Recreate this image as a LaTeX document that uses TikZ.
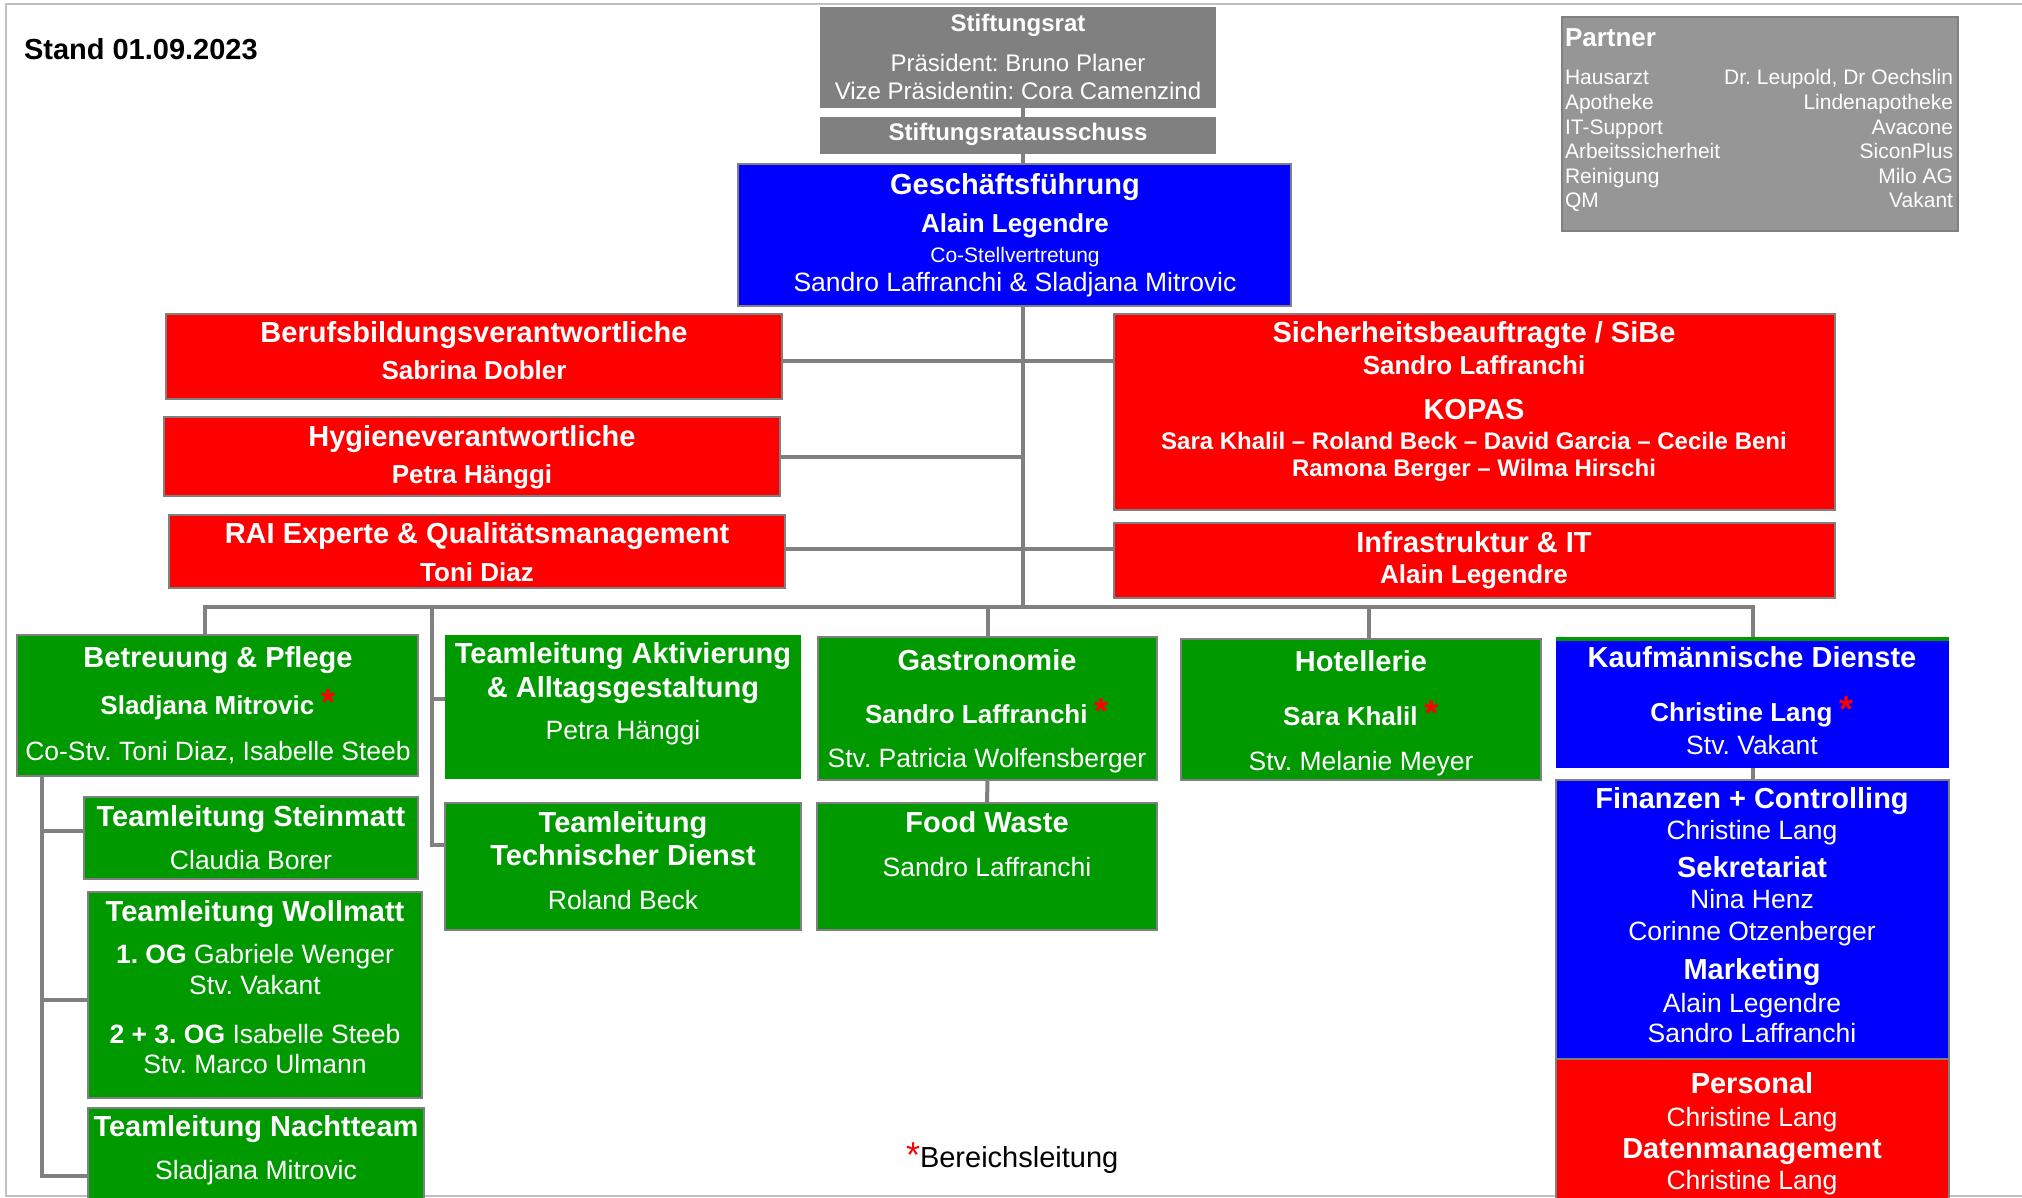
\documentclass[tikz,border=0pt]{standalone}
\usepackage{fontspec}
\setmainfont{Liberation Sans}
\usetikzlibrary{calc}
\frenchspacing
\definecolor{bgray}{RGB}{128,128,128}
\definecolor{pgray}{RGB}{150,150,150}
\definecolor{fgray}{RGB}{192,192,192}
\definecolor{ored}{RGB}{255,0,0}
\definecolor{oblue}{RGB}{0,0,255}
\definecolor{ogreen}{RGB}{0,153,0}
\newcommand\FTitle{\fontsize{29}{31}\selectfont\bfseries}
\newcommand\FName{\fontsize{26}{28}\selectfont\bfseries}
\newcommand\FReg{\fontsize{26.5}{28}\selectfont}
\newcommand\FSb{\fontsize{24}{26}\selectfont\bfseries}
\newcommand\FSr{\fontsize{24}{26}\selectfont}
\newcommand\FCo{\fontsize{21}{23}\selectfont}
\newcommand\FGfn{\fontsize{26.5}{28}\selectfont}
\newcommand\FStar{{\fontsize{36}{36}\selectfont\color{ored}*}}
\tikzset{
  box/.style={draw=bgray, line width=2.5pt, inner sep=0pt, outer sep=0pt},
  conn/.style={draw=bgray, line width=4pt, line join=miter},
  tx/.style={anchor=base, inner sep=0pt, outer sep=0pt, text=white, font=\frenchspacing},
}
\begin{document}
\begin{tikzpicture}[x=1pt,y=-1pt]
\useasboundingbox (0,0) rectangle (2022,1198);
\clip (0,0) rectangle (2022,1198);
\fill[white] (0,0) rectangle (2022,1198);
\draw[fgray, line width=2pt] (2022,4) -- (6,4) -- (6,1196) -- (2022,1196);

% ---------- boxes ----------
\node[box, draw=none, fill=bgray, minimum width=396pt, minimum height=101pt] (stift) at (1018,57.5) {};
\node[box, draw=none, fill=bgray, minimum width=396pt, minimum height=37pt] (aus) at (1018,135.5) {};
\node[box, fill=oblue, minimum width=553pt, minimum height=142pt] (gf) at (1014.5,235) {};
\node[box, fill=pgray, minimum width=396pt, minimum height=214pt] (partner) at (1760,124) {};
\node[box, fill=ored, minimum width=616pt, minimum height=85pt] (berufs) at (474,356.5) {};
\node[box, fill=ored, minimum width=616pt, minimum height=79pt] (hyg) at (472,456.5) {};
\node[box, fill=ored, minimum width=616pt, minimum height=73pt] (rai) at (477,551.5) {};
\node[box, fill=ored, minimum width=721pt, minimum height=196pt] (sich) at (1474.5,412) {};
\node[box, fill=ored, minimum width=721pt, minimum height=75pt] (infra) at (1474.5,560.5) {};
\node[box, fill=ogreen, minimum width=401pt, minimum height=141pt] (betr) at (217.5,705.5) {};
\node[box, fill=ogreen, minimum width=334pt, minimum height=82pt] (stein) at (251,838) {};
\node[box, fill=ogreen, minimum width=334pt, minimum height=206pt] (woll) at (255,995) {};
\node[box, fill=ogreen, minimum width=336pt, minimum height=107pt] (nacht) at (256,1161.5) {};
\node[box, draw=none, fill=ogreen, minimum width=356pt, minimum height=144pt] (akt) at (623,707) {};
\node[box, fill=ogreen, minimum width=356pt, minimum height=127pt] (tech) at (623,866.5) {};
\node[box, fill=ogreen, minimum width=339pt, minimum height=143pt] (gastro) at (987.5,708.5) {};
\node[box, fill=ogreen, minimum width=340pt, minimum height=127pt] (food) at (987,866.5) {};
\node[box, fill=ogreen, minimum width=360pt, minimum height=141pt] (hotel) at (1361,709.5) {};
\node[box, draw=none, fill=oblue, minimum width=393pt, minimum height=131pt] (kauf) at (1752.5,702.5) {};
\draw[ogreen, line width=3.5pt] ([yshift=-1.75pt]kauf.north west) -- ([yshift=-1.75pt]kauf.north east);
\node[box, fill=oblue, minimum width=393pt, minimum height=279pt] (fin) at (1752.5,919.5) {};
\node[box, fill=ored, minimum width=393pt, minimum height=156pt] (pers) at (1752.5,1137) {};

% ---------- connectors ----------
\coordinate (mx) at (1023,607);
\coordinate (y1) at (0,361);
\coordinate (y2) at (0,457);
\coordinate (y3) at (0,549);
\coordinate (bL) at (205,607);
\coordinate (bA) at (432,607);
\coordinate (yA) at (0,699);
\coordinate (yT) at (0,845);
\coordinate (bH) at (1369,607);
\coordinate (bB) at (42,776);
\coordinate (yS) at (0,831);
\coordinate (yW) at (0,1000);
\coordinate (yN) at (0,1176);

\draw[conn] (stift.south -| mx) -- (aus.north -| mx);
\draw[conn] (aus.south -| mx) -- (gf.north -| mx);
\draw[conn] (gf.south -| mx) -- (mx);
\draw[conn] (berufs.east |- y1) -- (sich.west |- y1);
\draw[conn] (hyg.east |- y2) -- (mx |- y2);
\draw[conn] (rai.east |- y3) -- (infra.west |- y3);
\draw[conn] (betr.north -| bL) -- (bL) -- (kauf.north |- bL) -- (kauf.north);
\draw[conn] (bA) -- (bA |- yT) -- (tech.west |- yT);
\draw[conn] (bA |- yA) -- (akt.west |- yA);
\draw[conn] (gastro.north |- bL) -- (gastro.north);
\draw[conn] (bH) -- (bH |- hotel.north);
\draw[conn] (gastro.south) -- (food.north);
\draw[conn] (kauf.south) -- (fin.north);
\draw[conn] (betr.south -| bB) -- (bB |- yN) -- (nacht.west |- yN);
\draw[conn] (bB |- yS) -- (stein.west |- yS);
\draw[conn] (bB |- yW) -- (woll.west |- yW);

% ---------- texts ----------
\node[tx, anchor=base west, text=black] (stand) at (24,60) {\FTitle Stand 01.09.2023};

\node[tx] (t01) at (1018,32) {\FSb Stiftungsrat};
\node[tx] (t02) at (1018,72) {\FSr Präsident: Bruno Planer};
\node[tx] (t03) at (1018,100) {\FSr Vize Präsidentin: Cora Camenzind};
\node[tx] (t04) at (1018,141) {\FSb Stiftungsratausschuss};

\node[tx] (t05) at (1015,195) {\FTitle Geschäftsführung};
\node[tx] (t06) at (1015,233) {\FName Alain Legendre};
\node[tx] (t07) at (1015,263) {\FCo Co-Stellvertretung};
\node[tx] (t08) at (1015,292) {\FGfn Sandro Laffranchi \& Sladjana Mitrovic};

\node[tx, anchor=base west] (p0) at (1565,47) {\FName Partner};
\node[tx, anchor=base west] (p1l) at (1565,85) {\FCo Hausarzt};
\node[tx, anchor=base east] (p1r) at (1953,85) {\FCo Dr. Leupold, Dr Oechslin};
\node[tx, anchor=base west] (p2l) at (1565,109.6) {\FCo Apotheke};
\node[tx, anchor=base east] (p2r) at (1953,109.6) {\FCo Lindenapotheke};
\node[tx, anchor=base west] (p3l) at (1565,134.2) {\FCo IT-Support};
\node[tx, anchor=base east] (p3r) at (1953,134.2) {\FCo Avacone};
\node[tx, anchor=base west] (p4l) at (1565,158.8) {\FCo Arbeitssicherheit};
\node[tx, anchor=base east] (p4r) at (1953,158.8) {\FCo SiconPlus};
\node[tx, anchor=base west] (p5l) at (1565,183.4) {\FCo Reinigung};
\node[tx, anchor=base east] (p5r) at (1953,183.4) {\FCo Milo AG};
\node[tx, anchor=base west] (p6l) at (1565,208) {\FCo QM};
\node[tx, anchor=base east] (p6r) at (1953,208) {\FCo Vakant};

\node[tx] (t10) at (474,343) {\FTitle Berufsbildungsverantwortliche};
\node[tx] (t11) at (474,380) {\FName Sabrina Dobler};
\node[tx] (t12) at (472,446) {\FTitle Hygieneverantwortliche};
\node[tx] (t13) at (472,483) {\FName Petra Hänggi};
\node[tx] (t14) at (477,543) {\FTitle RAI Experte \& Qualitätsmanagement};
\node[tx] (t15) at (477,581) {\FName Toni Diaz};

\node[tx] (t20) at (1474,343) {\FTitle Sicherheitsbeauftragte / SiBe};
\node[tx] (t21) at (1474,374) {\FName Sandro Laffranchi};
\node[tx] (t22) at (1474,419) {\FTitle KOPAS};
\node[tx] (t23) at (1474,449) {\FSb Sara Khalil – Roland Beck – David Garcia – Cecile Beni};
\node[tx] (t24) at (1474,476) {\FSb Ramona Berger – Wilma Hirschi};
\node[tx] (t25) at (1474,552) {\FTitle Infrastruktur \& IT};
\node[tx] (t26) at (1474,583) {\FName Alain Legendre};

\node[tx] (t30) at (218,667) {\FTitle Betreuung \& Pflege};
\node[tx] (t31) at (218,714) {\FName Sladjana Mitrovic \FStar};
\node[tx] (t32) at (218,760) {\FReg Co-Stv. Toni Diaz, Isabelle Steeb};
\node[tx] (t33) at (251,826) {\FTitle Teamleitung Steinmatt};
\node[tx] (t34) at (251,869) {\FReg Claudia Borer};
\node[tx] (t35) at (255,921) {\FTitle Teamleitung Wollmatt};
\node[tx] (t36) at (255,963) {\FReg \textbf{1. OG} Gabriele Wenger};
\node[tx] (t37) at (255,994) {\FReg Stv. Vakant};
\node[tx] (t38) at (255,1043) {\FReg \textbf{2 + 3. OG} Isabelle Steeb};
\node[tx] (t39) at (255,1073) {\FReg Stv. Marco Ulmann};
\node[tx] (t40) at (256,1136) {\FTitle Teamleitung Nachtteam};
\node[tx] (t41) at (256,1179) {\FReg Sladjana Mitrovic};

\node[tx] (t50) at (623,663) {\FTitle Teamleitung Aktivierung};
\node[tx] (t51) at (623,697) {\FTitle \& Alltagsgestaltung};
\node[tx] (t52) at (623,739) {\FReg Petra Hänggi};
\node[tx] (t53) at (623,832) {\FTitle Teamleitung};
\node[tx] (t54) at (623,865) {\FTitle Technischer Dienst};
\node[tx] (t55) at (623,909) {\FReg Roland Beck};

\node[tx] (t60) at (987,670) {\FTitle Gastronomie};
\node[tx] (t61) at (987,723) {\FName Sandro Laffranchi \FStar};
\node[tx] (t62) at (987,767) {\FReg Stv. Patricia Wolfensberger};
\node[tx] (t63) at (987,832) {\FTitle Food Waste};
\node[tx] (t64) at (987,876) {\FReg Sandro Laffranchi};

\node[tx] (t70) at (1361,671) {\FTitle Hotellerie};
\node[tx] (t71) at (1361,725) {\FName Sara Khalil \FStar};
\node[tx] (t72) at (1361,770) {\FReg Stv. Melanie Meyer};

\node[tx] (t80) at (1752,667) {\FTitle Kaufmännische Dienste};
\node[tx] (t81) at (1752,721) {\FName Christine Lang \FStar};
\node[tx] (t82) at (1752,754) {\FReg Stv. Vakant};
\node[tx] (t83) at (1752,808) {\FTitle Finanzen + Controlling};
\node[tx] (t84) at (1752,839) {\FReg Christine Lang};
\node[tx] (t85) at (1752,877) {\FTitle Sekretariat};
\node[tx] (t86) at (1752,908) {\FReg Nina Henz};
\node[tx] (t87) at (1752,940) {\FReg Corinne Otzenberger};
\node[tx] (t88) at (1752,979) {\FTitle Marketing};
\node[tx] (t89) at (1752,1012) {\FReg Alain Legendre};
\node[tx] (t90) at (1752,1042) {\FReg Sandro Laffranchi};
\node[tx] (t91) at (1752,1093) {\FTitle Personal};
\node[tx] (t92) at (1752,1126) {\FReg Christine Lang};
\node[tx] (t93) at (1752,1158) {\FTitle Datenmanagement};
\node[tx] (t94) at (1752,1189) {\FReg Christine Lang};

\node[tx, anchor=base west, text=black] (legend) at (906,1167) {\FStar\fontsize{29}{31}\selectfont Bereichsleitung};
\end{tikzpicture}
\end{document}
